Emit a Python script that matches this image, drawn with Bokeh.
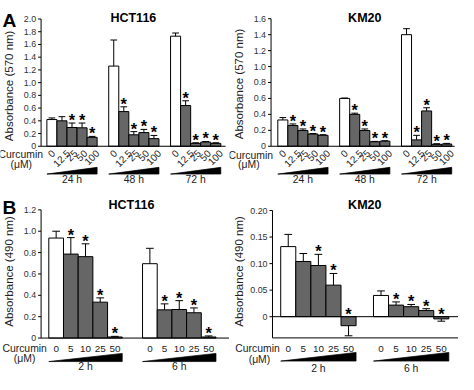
import math
from bokeh.plotting import figure
from bokeh.layouts import column, row
from bokeh.models import Range1d
from bokeh.core.properties import value
from bokeh.embed import file_html
from bokeh.resources import INLINE

# ---------------- data ----------------
doses_A = ["0", "12.5", "25", "50", "100"]
times_A = ["24 h", "48 h", "72 h"]
doses_B = ["0", "5", "10", "25", "50"]
times_B = ["2 h", "6 h"]

hctA_mean = [[0.42, 0.40, 0.295, 0.29, 0.14],
             [1.26, 0.545, 0.18, 0.215, 0.12],
             [1.73, 0.64, 0.045, 0.065, 0.045]]
hctA_err = [[0.025, 0.065, 0.07, 0.075, 0.015],
            [0.41, 0.075, 0.05, 0.05, 0.05],
            [0.05, 0.075, 0.01, 0.01, 0.01]]
hctA_sig = [[0, 0, 1, 1, 1], [0, 1, 1, 1, 1], [0, 1, 1, 1, 1]]

kmA_mean = [[0.33, 0.26, 0.197, 0.153, 0.137],
            [0.60, 0.40, 0.197, 0.056, 0.064],
            [1.40, 0.08, 0.443, 0.024, 0.028]]
kmA_err = [[0.03, 0.02, 0.02, 0.007, 0.008],
           [0.005, 0.015, 0.02, 0.005, 0.005],
           [0.075, 0.057, 0.04, 0.008, 0.008]]
kmA_sig = [[0, 1, 1, 1, 1], [0, 1, 1, 1, 1], [0, 1, 1, 1, 1]]

hctB_mean = [[0.936, 0.786, 0.762, 0.336, 0.01],
             [0.696, 0.264, 0.267, 0.237, 0.01]]
hctB_err = [[0.064, 0.154, 0.12, 0.04, 0.006],
            [0.144, 0.056, 0.083, 0.045, 0.01]]
hctB_sig = [[0, 1, 1, 1, 1], [0, 1, 1, 1, 1]]

kmB_mean = [[0.132, 0.104, 0.0964, 0.0594, -0.017],
            [0.040, 0.0218, 0.0188, 0.0115, -0.0042]]
kmB_err = [[0.023, 0.015, 0.021, 0.022, 0.019],
           [0.0085, 0.006, 0.0042, 0.0035, 0.0043]]
kmB_sig = [[0, 0, 1, 1, 1], [0, 1, 1, 1, 1]]

ticks_hctA = [0, 0.2, 0.4, 0.6, 0.8, 1.0, 1.2, 1.4, 1.6, 1.8, 2.0]
ticks_kmA = [0, 0.2, 0.4, 0.6, 0.8, 1.0, 1.2, 1.4, 1.6]
ticks_hctB = [0, 0.2, 0.4, 0.6, 0.8, 1.0, 1.2]
ticks_kmB = [0, 0.05, 0.10, 0.15, 0.20]

# ---------------- layout helpers ----------------
SX, SY = 229 / 237, 187 / 195
FW, FH = 229, 187
FONT = "Liberation Sans"
TXT = "#222222"
GRAY = "#666666"


def fs(px):
    return f"{px * SY:.1f}px"


def em_len(s):
    return sum(0.278 if ch == "." else 0.556 for ch in s)


def panel(cfg):
    means, errs, sig = cfg["means"], cfg["errs"], cfg["sig"]
    doses, times = cfg["doses"], cfg["times"]
    ng = len(means)
    bar_ref = (cfg["bar_end"] - cfg["bar_start"] - (ng - 1) * cfg["gspace"]) / 5
    G = cfg["gspace"] / bar_ref
    ppx = bar_ref * SX
    x_org = cfg["bar_start"] * SX

    def dxf(fx):
        return (fx - x_org) / ppx

    def dx(refx):
        return dxf(refx * SX)

    (v1, p1), (v2, p2) = cfg["ycal"]
    p1f, p2f = p1 * SY, p2 * SY
    slope = (v2 - v1) / (p2f - p1f)

    def dyf(fy):
        return v1 + (fy - p1f) * slope

    def dy(refy):
        return dyf(refy * SY)

    ppy = -1 / slope
    xs, xe = dxf(0), dxf(FW)
    ys, ye = dyf(FH), dyf(0)

    p = figure(width=FW, height=FH, x_range=Range1d(xs, xe), y_range=Range1d(ys, ye),
               x_axis_location=None, y_axis_location=None, toolbar_location=None,
               output_backend="svg", min_border=0, title=None)
    p.outline_line_color = None
    p.grid.visible = False
    p.background_fill_color = "white"
    p.border_fill_color = "white"

    xa = dx(cfg["axis_x"])
    xr = dx(cfg["right_x"])
    ticks = cfg["ticks"]
    ybot = cfg["ybot"]

    # y axis: line, ticks, tick labels
    p.segment(x0=[xa] * len(ticks), y0=ticks, x1=[xa - 3 / ppx] * len(ticks), y1=ticks,
              line_color="black", line_width=1)
    labels = ["0" if abs(t) < 1e-9 else f"{t:.{cfg['dec']}f}" for t in ticks]
    p.text(x=[xa - 5 / ppx] * len(ticks), y=ticks, text=labels, text_font=value(FONT),
           text_font_size=fs(9.3), text_align="right", text_baseline="middle", text_color="#333333")

    # bars, error bars, stars
    cx, tops, cols = [], [], []
    ex0, ey0, ey1 = [], [], []
    cap_w = cfg["cap"] / 2 / bar_ref
    sx_, sy_ = [], []
    for g in range(ng):
        for i in range(5):
            c = g * G + i + 0.5
            m, e = means[g][i], errs[g][i]
            cx.append(c)
            tops.append(m)
            cols.append("white" if i == 0 else GRAY)
            end = m + e if m >= 0 else m - e
            ex0.append(c)
            ey0.append(m)
            ey1.append(end)
            if sig[g][i]:
                base = end if m >= 0 else 0
                sx_.append(c)
                sy_.append(base + 3.0 / ppy)
    p.vbar(x=cx, width=1, bottom=0, top=tops, fill_color=cols, line_color="black", line_width=1)
    p.segment(x0=ex0, y0=ey0, x1=ex0, y1=ey1, line_color="black", line_width=1)
    p.segment(x0=[c - cap_w for c in ex0], y0=ey1, x1=[c + cap_w for c in ex0], y1=ey1,
              line_color="black", line_width=1)
    p.text(x=sx_, y=sy_, text=["*"] * len(sx_), text_font=value(FONT), text_font_style="bold",
           text_font_size=fs(17), text_align="center", text_baseline="alphabetic", text_color="black")

    # axis lines
    p.segment(x0=[xa], y0=[ybot], x1=[xa], y1=[ticks[-1]], line_color="black", line_width=1)
    p.segment(x0=[xa], y0=[0], x1=[xr], y1=[0], line_color="black", line_width=1)
    if ybot < 0:
        p.segment(x0=[xa], y0=[ybot], x1=[xr], y1=[ybot], line_color="black", line_width=1)

    # dose labels
    dfs = 10.3
    lx, ly, lt = [], [], []
    for g in range(ng):
        for i in range(5):
            c = g * G + i + 0.5
            lt.append(doses[i])
            lx.append(c)
            if cfg["rot"]:
                L = em_len(doses[i]) * dfs
                ly.append(dy(cfg["dose_y"] + L / 2 * 0.707))
            else:
                ly.append(dy(cfg["dose_y"]))
    p.text(x=lx, y=ly, text=lt, angle=(math.pi / 4 if cfg["rot"] else 0),
           text_font=value(FONT), text_font_size=fs(dfs), text_align="center",
           text_baseline="middle", text_color=TXT)

    # ramps and time labels
    rb, rt = cfg["ramp"]
    for g in range(ng):
        x0 = g * G
        p.patch(x=[x0, x0 + 5, x0 + 5], y=[dy(rb), dy(rb), dy(rt)], fill_color="black",
                line_color="black", line_width=0.7)
    p.text(x=[g * G + 2.5 for g in range(ng)], y=[dy(cfg["time_y"])] * ng, text=times,
           text_font=value(FONT), text_font_size=fs(10.8), text_align="center",
           text_baseline="middle", text_color=TXT)

    # title
    p.text(x=[dx(cfg["title_xy"][0])], y=[dy(cfg["title_xy"][1])], text=[cfg["title"]],
           text_font=value(FONT), text_font_style="bold", text_font_size=fs(13),
           text_align="center", text_baseline="middle", text_color="black")

    # y label, curcumin labels, panel letter
    p.text(x=[dx(cfg["ylab_xy"][0])], y=[dy(cfg["ylab_xy"][1])], text=[cfg["ylabel"]],
           angle=math.pi / 2, text_font=value(FONT), text_font_size=fs(12),
           text_align="center", text_baseline="middle", text_color=TXT)
    p.text(x=[dx(cfg["curc"][0])], y=[dy(cfg["curc"][1])], text=["Curcumin"],
           text_font=value(FONT), text_font_size=fs(10.8), text_align="right",
           text_baseline="middle", text_color=TXT)
    p.text(x=[dx(cfg["mu"][0])], y=[dy(cfg["mu"][1])], text=["(\u03bcM)"],
           text_font=value(FONT), text_font_size=fs(10.8), text_align="center",
           text_baseline="middle", text_color=TXT)
    if cfg.get("letter"):
        p.text(x=[dx(2)], y=[dy(21)], text=[cfg["letter"]], text_font=value(FONT),
               text_font_style="bold", text_font_size=fs(20),
               text_align="left", text_baseline="alphabetic", text_color="black")
    return p


pA1 = panel(dict(means=hctA_mean, errs=hctA_err, sig=hctA_sig, doses=doses_A, times=times_A,
                 ticks=ticks_hctA, dec=1, title="HCT116", letter="A",
                 ylabel="Absorbance (570 nm)", axis_x=42, right_x=233, bar_start=48, bar_end=228,
                 gspace=64, ycal=((0, 152), (2.0, 19.3)), ybot=0, cap=7, rot=True, dose_y=158,
                 ramp=(181, 174), time_y=187, title_xy=(137.5, 18), ylab_xy=(9, 89),
                 curc=(44, 161), mu=(21.5, 170.5)))
pA2 = panel(dict(means=kmA_mean, errs=kmA_err, sig=kmA_sig, doses=doses_A, times=times_A,
                 ticks=ticks_kmA, dec=1, title="KM20", letter=None,
                 ylabel="Absorbance (570 nm)", axis_x=43, right_x=233, bar_start=50, bar_end=230,
                 gspace=64, ycal=((0, 152), (1.6, 19)), ybot=0, cap=7, rot=True, dose_y=158,
                 ramp=(181, 174), time_y=187, title_xy=(140, 18), ylab_xy=(9.5, 87),
                 curc=(45, 161.5), mu=(20, 171)))
pB1 = panel(dict(means=hctB_mean, errs=hctB_err, sig=hctB_sig, doses=doses_B, times=times_B,
                 ticks=ticks_hctB, dec=1, title="HCT116", letter="B",
                 ylabel="Absorbance (490 nm)", axis_x=42, right_x=237, bar_start=50, bar_end=223,
                 gspace=97, ycal=((0, 157), (1.2, 23.3)), ybot=0, cap=8, rot=False, dose_y=168,
                 ramp=(181.5, 173), time_y=186.5, title_xy=(135.5, 18), ylab_xy=(9, 87.5),
                 curc=(48, 167.7), mu=(25, 178)))
pB2 = panel(dict(means=kmB_mean, errs=kmB_err, sig=kmB_sig, doses=doses_B, times=times_B,
                 ticks=ticks_kmB, dec=2, title="KM20", letter=None,
                 ylabel="Absorbance (490 nm)", axis_x=44.5, right_x=237, bar_start=53, bar_end=227,
                 gspace=96, ycal=((0, 134.7), (0.20, 24)), ybot=-0.04, cap=8, rot=False, dose_y=168,
                 ramp=(181, 172), time_y=188.5, title_xy=(140, 18), ylab_xy=(10, 87.5),
                 curc=(52, 168), mu=(31, 179.5)))

layout = column(row(pA1, pA2), row(pB1, pB2))
open("out.html", "w").write(file_html(layout, INLINE))
